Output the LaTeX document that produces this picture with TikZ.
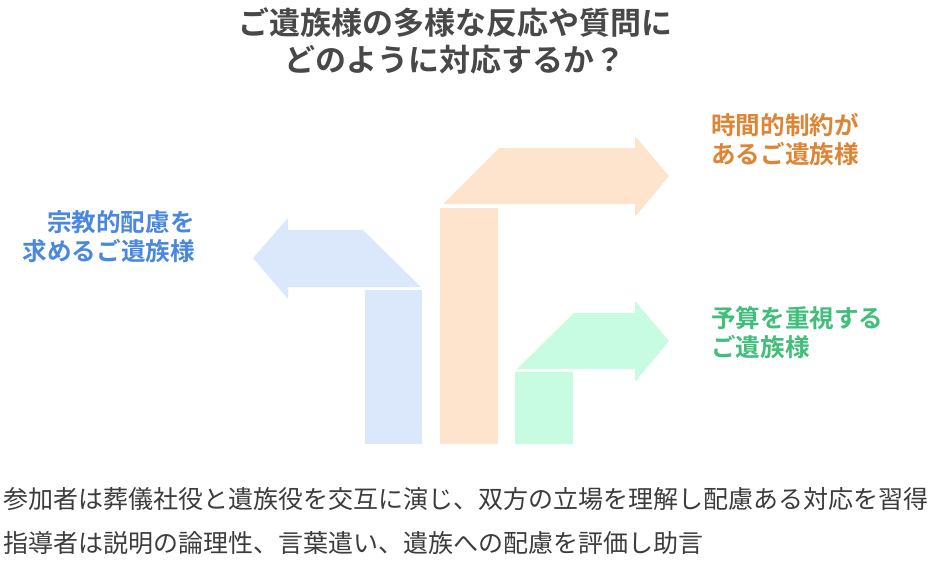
\documentclass[tikz,border=0pt]{standalone}
\usepackage{fontspec}
\newfontfamily\jpfont{Noto Sans CJK JP}[BoldFont={Noto Sans CJK JP Bold}]
\definecolor{blueshape}{RGB}{219,232,252}
\definecolor{orangeshape}{RGB}{254,228,205}
\definecolor{greenshape}{RGB}{200,252,226}
\definecolor{bluetext}{RGB}{74,136,224}
\definecolor{orangetext}{RGB}{222,132,52}
\definecolor{greentext}{RGB}{64,190,122}
\definecolor{titletext}{RGB}{72,72,72}
\definecolor{notetext}{RGB}{60,60,60}
\begin{document}
\begin{tikzpicture}[x=1pt,y=-1pt]
        \useasboundingbox (0,0) rectangle (935,565);
        \tikzset{label/.style={inner sep=0pt,font=\jpfont\bfseries\fontsize{24.6}{29}\selectfont},
                 note/.style={inner sep=0pt,anchor=west,text=notetext,font=\jpfont\fontsize{25}{30}\selectfont}}

        \node[inner sep=0pt,align=center,text=titletext,font=\jpfont\bfseries\fontsize{31}{37}\selectfont]
        (title) at (455,41) {ご遺族様の多様な反応や質問に\\どのように対応するか？};

        % blue arrow, turning left
        \fill[blueshape] (253,258) -- (288,218) -- (288,230) -- (363,230) -- (421,287)
        -- (288,287) -- (288,299) -- cycle;
        \fill[blueshape] (365,290) rectangle (422,444);

        % orange arrow, turning right
        \fill[orangeshape] (443,204) -- (499,148) -- (635,148) -- (635,136) -- (669,176)
        -- (635,217) -- (635,204) -- cycle;
        \fill[orangeshape] (440,208) rectangle (498,444);

        % green arrow, turning right
        \fill[greenshape] (517,369) -- (574,313) -- (635,313) -- (635,301) -- (669,341)
        -- (635,382) -- (635,369) -- cycle;
        \fill[greenshape] (515,372) rectangle (573,444);

        \node[label,anchor=east,align=right,text=bluetext] (religion) at (195,237)
        {宗教的配慮を\\求めるご遺族様};
        \node[label,anchor=west,align=left,text=orangetext] (time) at (711,139)
        {時間的制約が\\あるご遺族様};
        \node[label,anchor=west,align=left,text=greentext] (budget) at (711,333)
        {予算を重視する\\ご遺族様};

        \node[note] (roleplay) at (3,499)
        {参加者は葬儀社役と遺族役を交互に演じ、双方の立場を理解し配慮ある対応を習得};
        \node[note] (advice) at (3,543)
        {指導者は説明の論理性、言葉遣い、遺族への配慮を評価し助言};
    \end{tikzpicture}
\end{document}
